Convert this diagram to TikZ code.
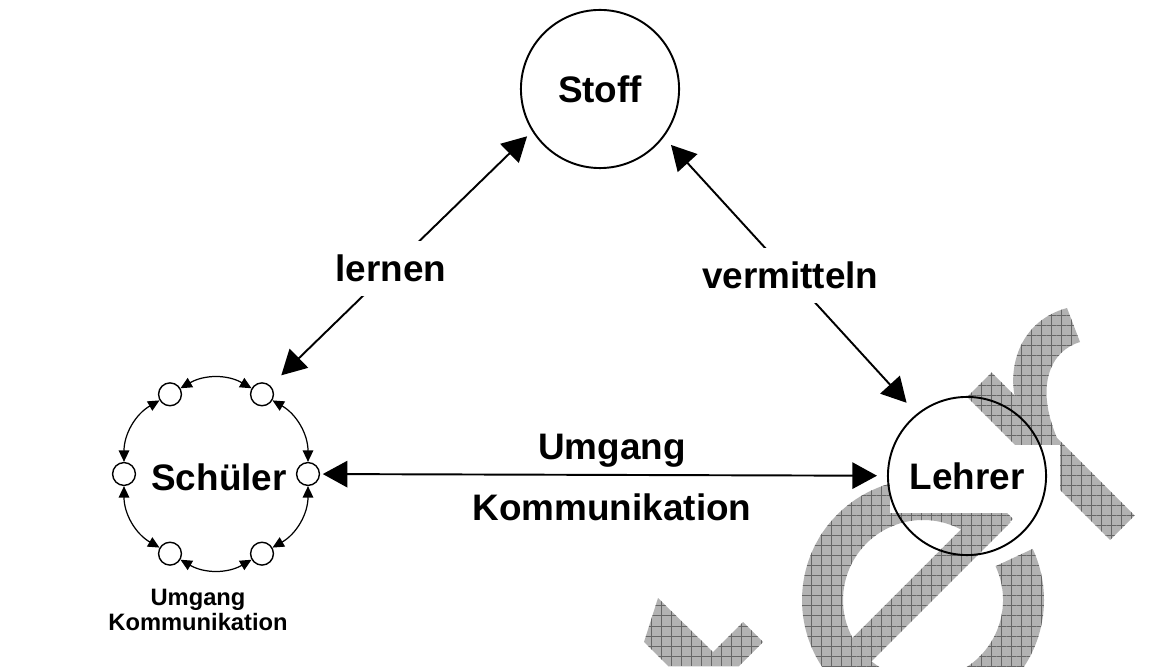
\documentclass[tikz,border=0pt]{standalone}
\usepackage{fontspec}
\setmainfont{Liberation Sans}
\usetikzlibrary{arrows.meta,patterns.meta}

\begin{document}
\begin{tikzpicture}[x=0.02cm,y=0.02cm,>={Triangle[length=14pt,width=15pt]},
  line width=1.1pt,
  main node/.style={circle,draw,minimum size=90pt,font=\bfseries\fontsize{21}{25}\selectfont},
  small node/.style={circle,draw,line width=0.8pt,minimum size=13pt,inner sep=0pt},
  ring edge/.style={<->,>={Triangle[length=6.5pt,width=6pt]},line width=0.7pt,bend right=30},
  word node/.style={fill=white,inner sep=8pt},
  watermark/.style={preaction={fill=black!30},pattern={Hatch[angle=0,distance=5.7pt,line width=0.5pt]},
    pattern color=black!60}]

  \useasboundingbox (0,0) rectangle (1159,666);

  \begin{scope}
    \clip (0,0) rectangle (1159,666);
    \path[watermark] (644,24) -- (658,68) -- (713,14) -- (743,44) -- (763,24) -- (739,0) -- (668,0) -- cycle;
    \begin{scope}[shift={(923,66)},rotate=45]
      \path[watermark] (-3:121) arc[start angle=-3,end angle=340,radius=121]
        -- (340:80) arc[start angle=340,end angle=-3,radius=80] -- cycle;
      \path[watermark] (-85,-7) rectangle (117,23);
    \end{scope}
    \path[watermark] (967,269) -- (991.5,293.5) -- (1134.5,150.5) -- (1110,126) -- cycle;
    \path[watermark] (1015,268) .. controls (1008,300) and (1020,345) .. (1067,358) -- (1080,324)
      .. controls (1050,315) and (1035,280) .. (1057,228) -- cycle;
    \fill[white] (890,153) rectangle (1060,221);
  \end{scope}

  \node[main node] (stoff) at (600,577) {Stoff};
  \node[main node] (lehrer) at (967,190) {Lehrer};
  \node[font=\bfseries\fontsize{21}{25}\selectfont] (sch) at (219,189) {Schüler};
  \begin{scope}[shift={(216,192)}]
    \foreach \i in {1,...,6}
      \node[small node] (p\i) at ({(\i-1)*60}:92) {};
  \end{scope}
  \node[align=center,font=\bfseries\fontsize{13.5}{14}\selectfont] (note) at (198,56) {Umgang\\Kommunikation};

  \foreach \i/\j in {1/2,2/3,3/4,4/5,5/6,6/1}
    \path (p\i) edge[ring edge] (p\j);

  \path[<->,every node/.style={font=\bfseries\fontsize{21}{25}\selectfont}]
    (p2.45) edge[shorten <=8.5pt,shorten >=4pt] node[word node,pos=0.46] {lernen} (stoff.212)
    (stoff.-37) edge[shorten <=6pt,shorten >=8.5pt] node[word node] {vermitteln} (lehrer.129)
    (p1) edge[shorten <=1.5pt,shorten >=5.7pt] node[above,inner sep=4pt,pos=0.515] {Umgang}
      node[below=6pt,inner sep=4pt,pos=0.515] {Kommunikation} (lehrer);
\end{tikzpicture}
\end{document}
